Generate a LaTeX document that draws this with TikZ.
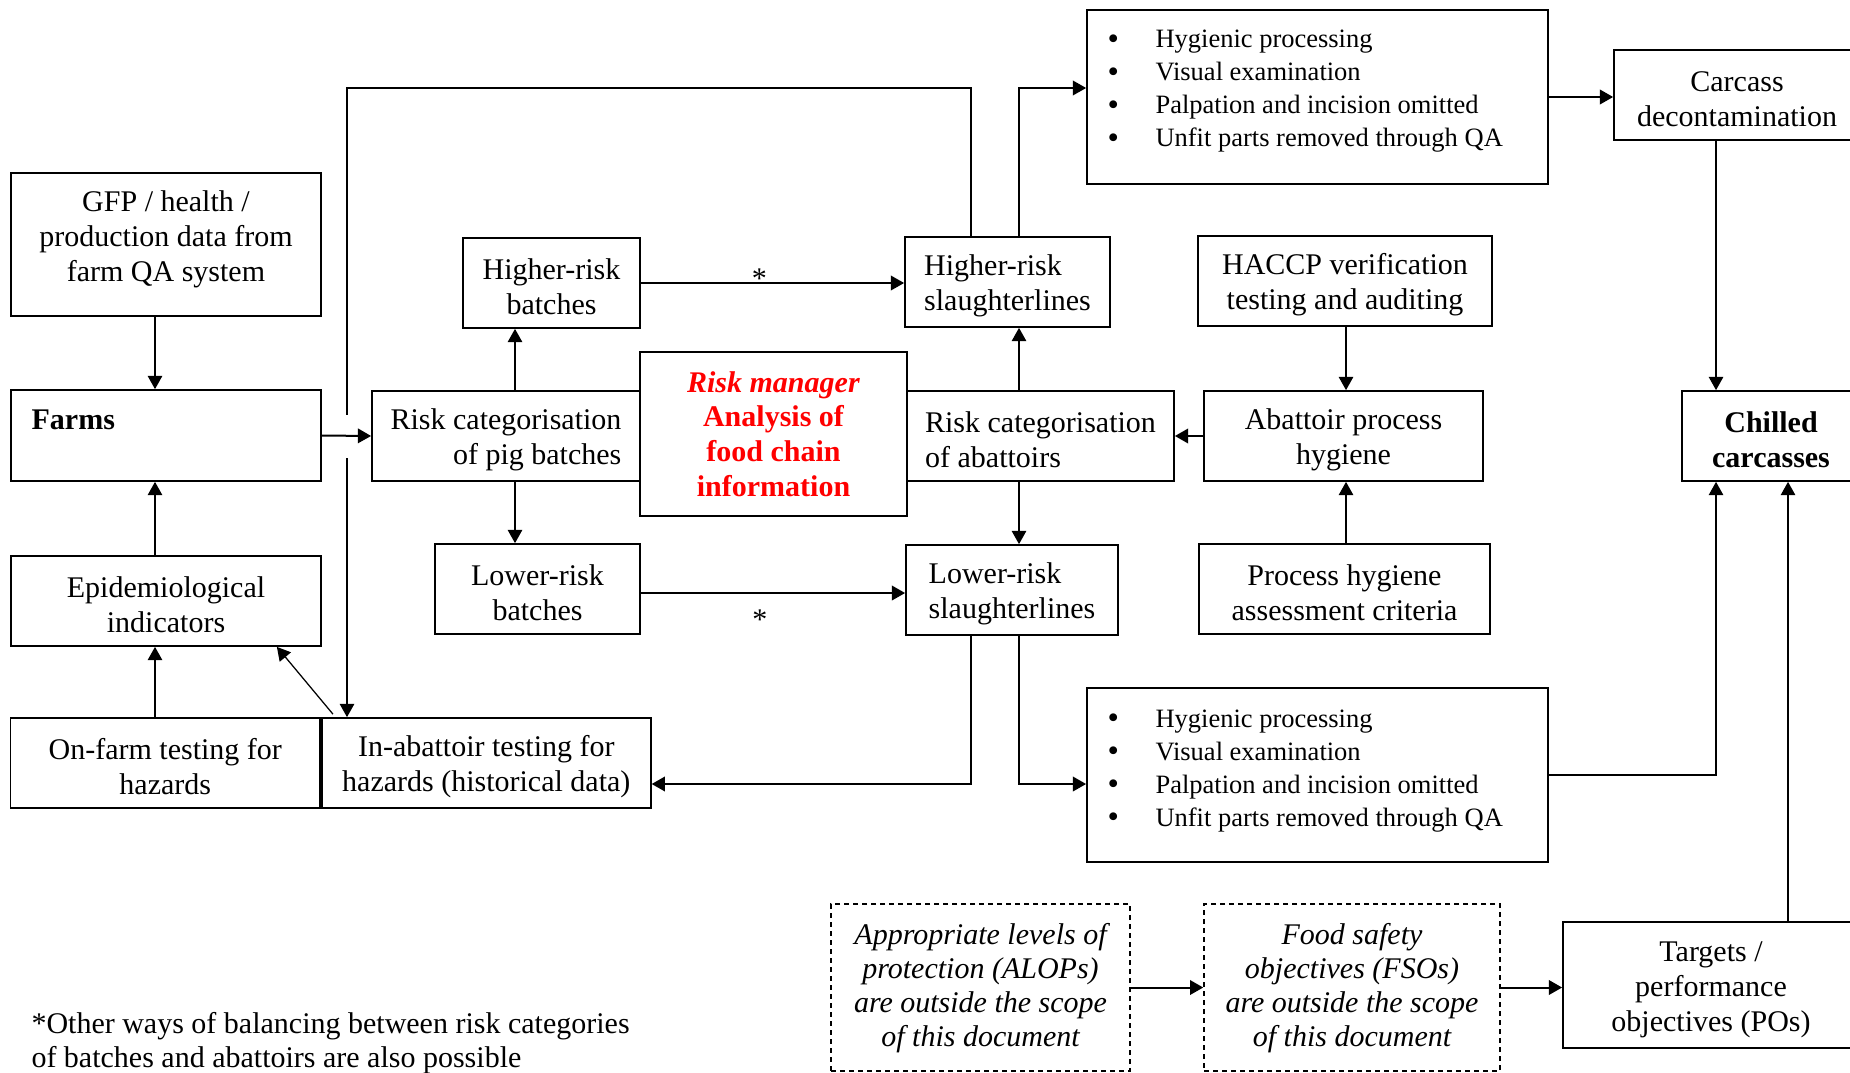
\documentclass[tikz,border=0pt]{standalone}
\usepackage{fontspec}
\setmainfont{Liberation Serif}
\usepackage{tikz}
\usetikzlibrary{arrows.meta, positioning, calc}
\definecolor{rmred}{HTML}{FF0000}
\newcommand{\qadot}{\raisebox{-0.6pt}{\fontsize{13}{13}\selectfont\textbullet}}

\begin{document}
\begin{tikzpicture}[
  x=0.4pt, y=-0.4pt,
  box/.style={rectangle, draw, line width=0.7pt, minimum width=#1, minimum height=36pt, inner sep=2pt, align=center, text height=25.5pt, font=\fontsize{12}{14}\selectfont},
  scopebox/.style={box=#1, dash pattern=on 2pt off 1.6pt, line width=0.6pt, minimum height=66.8pt, text height=49.6pt, font=\fontsize{12}{13.6}\selectfont\itshape},
  bullets/.style={inner sep=0pt, anchor=west, font=\fontsize{10.6}{13.2}\selectfont},
  arrow/.style={-{Triangle[length=5.3pt,width=5.8pt]}, line width=0.5pt},
  thickarrow/.style={arrow, line width=0.8pt}
]
  \useasboundingbox (0,0) rectangle (1850,1072);

  % Farm side
  \node[box=124pt, minimum height=57.2pt, text height=36.3pt, text depth=6.4pt] (gfp) at (166,244.5) {GFP / health /\\production data from\\farm QA system};
  \node[box=124pt, minimum height=36.4pt] (farms) at (166,435.5) {};
  \node[anchor=base west, inner sep=0pt, font=\fontsize{12}{14}\selectfont\bfseries] (farmstext) at ($(farms.north west)+(21,40)$) {Farms};
  \node[box=124pt] (epi) at (166,601) {Epidemiological\\indicators};
  \node[box=123.8pt] (onfarm) at (165.3,763) {On-farm testing for\\hazards};
  \node[box=131.6pt, inner xsep=0.5pt, right=0pt of onfarm] (inabattoir) {In-abattoir testing for\\hazards (historical data)};

  % Batches
  \node[box=107.2pt, align=right] (pigcat) at (506,436) {Risk categorisation\\of pig batches};
  \node[box=70.8pt] (highbatch) at (551.5,283) {Higher-risk\\batches};
  \node[box=82pt] (lowbatch) at (537.5,589) {Lower-risk\\batches};
  \node[box=106.8pt, minimum height=65.6pt, text height=50pt, text=rmred, font=\fontsize{12}{13.9}\selectfont\bfseries] (riskmgr) at (773.5,434) {\textit{Risk manager}\\Analysis of\\food chain\\information};

  % Abattoirs
  \node[box=82pt, align=left] (highline) at (1007.5,282) {Higher-risk\\slaughterlines};
  \node[box=84.8pt, align=left] (lowline) at (1012,590) {Lower-risk\\slaughterlines};
  \node[box=106.8pt, align=left] (abcat) at (1040.5,436) {Risk categorisation\\of abattoirs};
  \node[box=111.6pt] (abhyg) at (1343.5,436) {Abattoir process\\hygiene};
  \node[box=117.6pt] (haccp) at (1345,281) {HACCP verification\\testing and auditing};
  \node[box=116.4pt] (phac) at (1344.5,589) {Process hygiene\\assessment criteria};

  % Inspection
  \node[box=184.4pt, minimum height=69.6pt] (topqa) at (1317.5,97) {};
  \node[bullets] (topqatext) at ($(topqa.west)+(21,-6.5)$) {\begin{tabular}{@{}l@{\hspace{14.6pt}}l@{}}
    \qadot & Hygienic processing\\
    \qadot & Visual examination\\
    \qadot & Palpation and incision omitted\\
    \qadot & Unfit parts removed through QA
  \end{tabular}};
  \node[box=184.4pt, minimum height=69.6pt] (botqa) at (1317.5,775) {};
  \node[bullets] (botqatext) at ($(botqa.west)+(21,-5)$) {\begin{tabular}{@{}l@{\hspace{14.6pt}}l@{}}
    \qadot & Hygienic processing\\
    \qadot & Visual examination\\
    \qadot & Palpation and incision omitted\\
    \qadot & Unfit parts removed through QA
  \end{tabular}};

  % Carcasses
  \node[box=98.4pt] (decon) at (1737,95) {Carcass\\decontamination};
  \node[box=71.2pt, font=\fontsize{12}{14}\selectfont\bfseries] (chilled) at (1771,436) {Chilled\\carcasses};
  \node[box=118.4pt, minimum height=50.4pt, text height=39.6pt] (targets) at (1711,985) {Targets /\\performance\\objectives (POs)};

  % Scope
  \node[scopebox=119.6pt] (alop) at (980.5,987.5) {Appropriate levels of\\protection (ALOPs)\\are outside the scope\\of this document};
  \node[scopebox=118.4pt] (fso) at (1352,987.5) {Food safety\\objectives (FSOs)\\are outside the scope\\of this document};

  \node[anchor=west, inner sep=0pt, align=left, font=\fontsize{12}{13.6}\selectfont] (note) at (31,1043) {*Other ways of balancing between risk categories\\of batches and abattoirs are also possible};

  % Columns and rows
  \coordinate (colA) at (155,0);
  \coordinate (colB) at (515,0);
  \coordinate (colC) at (971,0);
  \coordinate (colD) at (1019,0);
  \coordinate (colE) at (1346,0);
  \coordinate (colF) at (1716,0);
  \coordinate (colG) at (1788,0);
  \coordinate (colH) at (347,0);
  \coordinate (rowA) at (0,88);
  \coordinate (rowB) at (0,784);
  \coordinate (gapA) at (347,415);
  \coordinate (gapB) at (347,458);

  % Arrows
  \draw[arrow] (gfp.south -| colA) -- (farms.north -| colA);
  \draw[arrow] (epi.north -| colA) -- (farms.south -| colA);
  \draw[arrow] (onfarm.north -| colA) -- (epi.south -| colA);
  \draw[arrow] ($(inabattoir.north west)+(12,-3)$) -- ($(epi.south east)+(-45,0)$);
  \draw[thickarrow] (farms.east) -- (pigcat.west);
  \draw[arrow] (pigcat.north -| colB) -- (highbatch.south -| colB);
  \draw[arrow] (pigcat.south -| colB) -- (lowbatch.north -| colB);
  \draw[thickarrow] (highbatch.east) -- node[pos=0.45, above=-6pt, font=\fontsize{12}{14}\selectfont] {*} (highbatch.east -| highline.west);
  \draw[thickarrow] ($(lowbatch.east)+(0,4)$) -- node[pos=0.45, below=3pt, font=\fontsize{12}{14}\selectfont] {*} ($(lowbatch.east -| lowline.west)+(0,4)$);
  \draw[arrow] (abcat.north -| colD) -- (highline.south -| colD);
  \draw[arrow] (abcat.south -| colD) -- (lowline.north -| colD);
  \draw[thickarrow] (abhyg.west) -- (abcat.east);
  \draw[arrow] (haccp.south -| colE) -- (abhyg.north -| colE);
  \draw[arrow] (phac.north -| colE) -- (abhyg.south -| colE);
  \draw[thickarrow] (highline.north -| colD) |- (topqa.west |- rowA);
  \draw[line width=0.5pt] (highline.north -| colC) |- (rowA -| colH) -- (gapA);
  \draw[arrow] (gapB) -- (inabattoir.north -| colH);
  \draw[thickarrow] (lowline.south -| colC) |- (inabattoir.east |- rowB);
  \draw[thickarrow] (lowline.south -| colD) |- (botqa.west |- rowB);
  \draw[thickarrow] (topqa.east) -- (topqa.east -| decon.west);
  \draw[arrow] (decon.south -| colF) -- (chilled.north -| colF);
  \draw[arrow] (botqa.east) -| (chilled.south -| colF);
  \draw[arrow] (targets.north -| colG) -- (chilled.south -| colG);
  \draw[thickarrow] (alop.east) -- (fso.west);
  \draw[thickarrow] (fso.east) -- (fso.east -| targets.west);
\end{tikzpicture}
\end{document}
